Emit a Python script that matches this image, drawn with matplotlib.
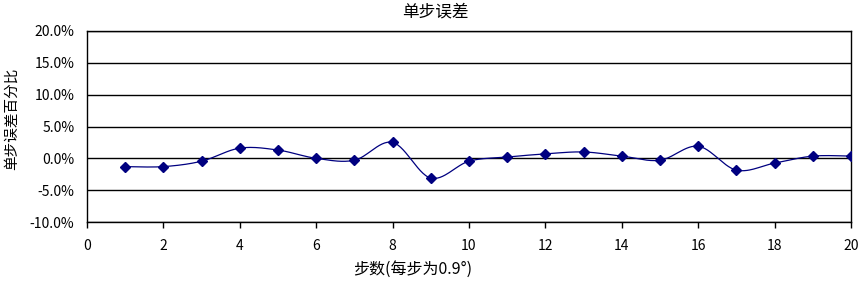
import numpy as np
import matplotlib
matplotlib.use("Agg")
import matplotlib.pyplot as plt
from matplotlib.ticker import FuncFormatter, MultipleLocator

plt.rcParams['font.family'] = ['Noto Sans CJK SC', 'DejaVu Sans']

steps = list(range(1, 21))
error_pct = [-1.3, -1.3, -0.45, 1.6, 1.3, 0.0, -0.3, 2.5, -3.1, -0.45,
             0.2, 0.7, 1.0, 0.35, -0.3, 1.9, -1.85, -0.75, 0.35, 0.35]

title = "单步误差"
xlabel = "步数(每步为0.9°)"
ylabel = "单步误差百分比"

def catmull_rom(x, y, n=30):
    x = np.asarray(x, float); y = np.asarray(y, float)
    px = np.concatenate([[x[0]], x, [x[-1]]])
    py = np.concatenate([[y[0]], y, [y[-1]]])
    xs, ys = [], []
    for i in range(1, len(px) - 2):
        p0, p1, p2, p3 = (np.array([px[j], py[j]]) for j in (i - 1, i, i + 1, i + 2))
        c1 = p1 + (p2 - p0) / 6
        c2 = p2 - (p3 - p1) / 6
        t = np.linspace(0, 1, n)[:, None]
        pts = (1 - t) ** 3 * p1 + 3 * (1 - t) ** 2 * t * c1 + 3 * (1 - t) * t ** 2 * c2 + t ** 3 * p2
        xs.append(pts[:, 0]); ys.append(pts[:, 1])
    return np.concatenate(xs), np.concatenate(ys)

fig = plt.figure(figsize=(8.68, 2.81), dpi=100)
ax = fig.add_axes([87/868, 1 - 222/281, (851-87)/868, (222-31)/281])

sx, sy = catmull_rom(steps, error_pct)
ax.plot(sx, sy, color='#000080', lw=0.9, zorder=3)
ax.plot(steps, error_pct, linestyle='none', marker='D', markersize=5,
        color='#000080', zorder=4)

ax.set_xlim(0, 20)
ax.set_ylim(-10, 20)
ax.xaxis.set_major_locator(MultipleLocator(2))
ax.yaxis.set_major_locator(MultipleLocator(5))
ax.yaxis.set_major_formatter(FuncFormatter(lambda v, p: f"{v:.1f}%"))
ax.grid(axis='y', color='black', lw=1)
ax.set_axisbelow(True)
for s in ax.spines.values():
    s.set_color('black'); s.set_linewidth(1)
ax.tick_params(axis='x', direction='out', length=4, width=1, labelsize=10, pad=8)
ax.tick_params(axis='y', length=0, labelsize=10, pad=9)

fig.text(435/868, 1 - 12/281, title, ha='center', va='center', fontsize=12)
fig.text(413/868, 1 - 269/281, xlabel, ha='center', va='center', fontsize=11.5)
fig.text(12/868, 1 - 119/281, ylabel, ha='center', va='center', rotation=90, fontsize=10.5)

fig.savefig("out.png", dpi=100)
